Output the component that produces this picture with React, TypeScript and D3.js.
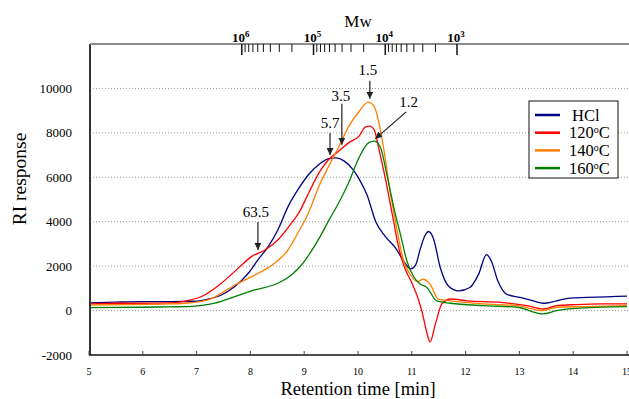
import { useEffect, useRef } from 'react';
import * as d3 from 'd3';

// retention time [min] / RI response
const hclTime = [5, 5.5, 6, 6.5, 7, 7.15, 7.46, 7.71, 7.96, 8.14, 8.33, 8.51, 8.7, 8.88, 9.09, 9.28, 9.46, 9.59, 9.74, 9.9, 10.02, 10.17, 10.33, 10.51, 10.7, 10.85, 10.98, 11.07, 11.16, 11.25, 11.31, 11.4, 11.53, 11.68, 11.87, 12.08, 12.24, 12.39, 12.48, 12.6, 12.76, 13.01, 13.26, 13.44, 13.69, 13.94, 14.25, 14.62, 15];
const hclValue = [350, 380, 400, 400, 420, 480, 700, 1080, 1680, 2280, 2880, 3630, 4680, 5430, 6150, 6590, 6840, 6870, 6740, 6370, 5930, 5190, 4000, 3330, 2810, 2220, 1880, 2050, 2800, 3400, 3560, 3260, 1930, 1110, 890, 1040, 1630, 2520, 2220, 1330, 740, 590, 440, 330, 440, 560, 590, 620, 650];

const c120Time = [5, 5.5, 6, 6.5, 6.84, 7.15, 7.46, 7.77, 8.02, 8.27, 8.51, 8.72, 8.91, 9.09, 9.28, 9.46, 9.65, 9.83, 10.02, 10.14, 10.22, 10.3, 10.39, 10.51, 10.64, 10.76, 10.88, 11.0, 11.13, 11.2, 11.28, 11.34, 11.44, 11.56, 11.72, 12.03, 12.65, 13.14, 13.44, 13.69, 14.06, 14.5, 15];
const c120Value = [300, 330, 330, 350, 450, 700, 1230, 1900, 2430, 2730, 3180, 3800, 4440, 5330, 6220, 6810, 7190, 7560, 7850, 8270, 8300, 8150, 7260, 5930, 4300, 2800, 1850, 1250, 440, -150, -1000, -1410, -590, 300, 520, 440, 370, 220, 70, 220, 270, 300, 300];

const c140Time = [5, 6, 6.5, 6.84, 7.21, 7.46, 7.71, 7.96, 8.2, 8.45, 8.7, 8.88, 9.07, 9.28, 9.46, 9.65, 9.83, 10.02, 10.19, 10.3, 10.39, 10.48, 10.6, 10.73, 10.85, 10.98, 11.1, 11.21, 11.34, 11.49, 11.72, 12.34, 12.96, 13.44, 13.69, 14.19, 15];
const c140Value = [250, 280, 300, 340, 480, 780, 1150, 1450, 1750, 2130, 2730, 3480, 4350, 5630, 6520, 7410, 8300, 8960, 9380, 9190, 8440, 7260, 5330, 3560, 2220, 1600, 1300, 1410, 1190, 520, 440, 300, 220, 0, 150, 180, 220];

const c160Time = [5, 6, 6.5, 6.84, 7.34, 7.71, 8.08, 8.51, 8.76, 8.95, 9.09, 9.28, 9.46, 9.65, 9.83, 10.02, 10.2, 10.31, 10.42, 10.54, 10.67, 10.79, 10.91, 11.04, 11.16, 11.28, 11.46, 11.72, 12.34, 12.96, 13.44, 13.69, 14.19, 15];
const c160Value = [130, 150, 170, 180, 330, 630, 930, 1230, 1600, 2050, 2520, 3260, 4070, 4890, 5780, 6890, 7560, 7630, 7330, 6070, 4590, 3410, 2220, 1500, 1190, 1040, 440, 330, 220, 150, -150, 0, 120, 180];

const seriesNames = ['HCl', '120', '140', '160'];
const seriesColors = ['#000080', '#ff0000', '#ff7f00', '#008000'];

const xTicks = [5, 6, 7, 8, 9, 10, 11, 12, 13, 14, 15];
const yTicks = [-2000, 0, 2000, 4000, 6000, 8000, 10000];
const gridValues = [0, 2000, 4000, 6000, 8000, 10000];

// molecular weight calibration on the top axis
const mwMajor = [1e6, 1e5, 1e4, 1e3];
const mwExp = ['6', '5', '4', '3'];
const mwTimes = [7.84, 11.84];

// arrow callouts: label, tip (time, response), tail offset px, text offset px
const annLabel = ['63.5', '5.7', '3.5', '1.5', '1.2'];
const annTime = [8.14, 9.48, 9.7, 10.22, 10.32];
const annValue = [2730, 7000, 7460, 9530, 7730];
const annDx = [0, 0, 0, 0, 31];
const annDy = [-28, -22, -41, -18, -27];
const annTx = [-2, 0, -1, -2, -7];
const annTy = [-5, -5, -3, -6, -5];

export default function App() {
  const ref = useRef<SVGSVGElement>(null);

  useEffect(() => {
    if (!ref.current) return;
    const svg = d3.select(ref.current);
    svg.selectAll('*').remove();

    const font = '"Liberation Serif", "Times New Roman", serif';
    const left = 90, right = 627, top = 44, bottom = 355;

    const x = d3.scaleLinear().domain([5, 15]).range([89, right]);
    const y = d3.scaleLinear().domain([-2000, 12000]).range([bottom, top]);

    const defs = svg.append('defs');
    defs.append('marker')
      .attr('id', 'arr')
      .attr('viewBox', '0 0 10 10')
      .attr('refX', 10).attr('refY', 5)
      .attr('markerWidth', 7).attr('markerHeight', 7)
      .attr('markerUnits', 'userSpaceOnUse')
      .attr('orient', 'auto')
      .append('path').attr('d', 'M0,0L10,5L0,10z').attr('fill', '#222');

    // grid
    svg.append('g').selectAll('line')
      .data(gridValues).enter().append('line')
      .attr('x1', left).attr('x2', 629)
      .attr('y1', d => y(d)).attr('y2', d => y(d))
      .attr('stroke', '#9a9a9a').attr('stroke-width', 1)
      .attr('stroke-dasharray', '1,2');

    // series
    const times = [hclTime, c120Time, c140Time, c160Time];
    const values = [hclValue, c120Value, c140Value, c160Value];
    const line = d3.line<[number, number]>()
      .x(d => x(d[0]))
      .y(d => y(d[1]))
      .curve(d3.curveMonotoneX);
    times.forEach((ts, k) => {
      const pts: [number, number][] = ts.map((t, i) => [t, values[k][i]]);
      svg.append('path')
        .datum(pts)
        .attr('d', line)
        .attr('fill', 'none')
        .attr('stroke', seriesColors[k])
        .attr('stroke-width', 1.3);
    });

    // left axis
    svg.append('line')
      .attr('x1', left).attr('x2', left).attr('y1', top).attr('y2', bottom)
      .attr('stroke', '#333').attr('stroke-width', 2);
    svg.append('g').selectAll('text')
      .data(yTicks).enter().append('text')
      .attr('x', 72).attr('y', d => y(d) + 4.5)
      .attr('text-anchor', 'end')
      .style('font-family', font).style('font-size', '13px')
      .text(d => String(d));

    // bottom axis
    svg.append('line')
      .attr('x1', left - 1).attr('x2', 629).attr('y1', bottom).attr('y2', bottom)
      .attr('stroke', '#111').attr('stroke-width', 1.5);
    svg.append('g').selectAll('line')
      .data(xTicks).enter().append('line')
      .attr('x1', d => x(d)).attr('x2', d => x(d))
      .attr('y1', bottom).attr('y2', bottom - 4)
      .attr('stroke', '#444').attr('stroke-width', 1);
    svg.append('g').selectAll('text')
      .data(xTicks).enter().append('text')
      .attr('x', d => x(d)).attr('y', 375)
      .attr('text-anchor', 'middle')
      .style('font-family', font).style('font-size', '10px')
      .text(d => String(d));

    svg.append('text')
      .attr('x', 358).attr('y', 395)
      .attr('text-anchor', 'middle')
      .style('font-family', font).style('font-size', '18.5px')
      .text('Retention time [min]');
    svg.append('text')
      .attr('transform', 'translate(26,179) rotate(-90)')
      .attr('text-anchor', 'middle')
      .style('font-family', font).style('font-size', '19.5px')
      .text('RI response');

    // top Mw axis
    const mw = d3.scaleLog().domain([1e6, 1e3]).range([x(mwTimes[0]), x(mwTimes[1])]);
    svg.append('line')
      .attr('x1', left).attr('x2', 629).attr('y1', top).attr('y2', top)
      .attr('stroke', '#8c8c8c').attr('stroke-width', 2);
    const minor: number[] = [];
    [1e5, 1e4, 1e3].forEach(d => { for (let m = 2; m <= 9; m++) minor.push(d * m); });
    svg.append('g').selectAll('line')
      .data(minor).enter().append('line')
      .attr('x1', d => mw(d)).attr('x2', d => mw(d))
      .attr('y1', top).attr('y2', top + 8)
      .attr('stroke', '#111').attr('stroke-width', 1);
    svg.append('g').selectAll('line')
      .data(mwMajor).enter().append('line')
      .attr('x1', d => mw(d)).attr('x2', d => mw(d))
      .attr('y1', top).attr('y2', top + 11)
      .attr('stroke', '#111').attr('stroke-width', 1.5);
    const mwLab = svg.append('g').selectAll('text')
      .data(mwMajor).enter().append('text')
      .attr('x', d => mw(d) - 1).attr('y', top - 2)
      .attr('text-anchor', 'middle')
      .style('font-family', font).style('font-size', '13px').style('font-weight', 'bold');
    mwLab.append('tspan').text('10');
    mwLab.append('tspan').attr('dy', -5).style('font-size', '9px').text((d, i) => mwExp[i]);
    svg.append('text')
      .attr('x', 358).attr('y', 27)
      .attr('text-anchor', 'middle')
      .style('font-family', font).style('font-size', '17px')
      .text('Mw');

    // callouts
    annLabel.forEach((lab, i) => {
      const px = x(annTime[i]), py = y(annValue[i]);
      const tx = px + annDx[i], ty = py + annDy[i];
      svg.append('line')
        .attr('x1', tx).attr('y1', ty).attr('x2', px).attr('y2', py)
        .attr('stroke', '#222').attr('stroke-width', 1.2)
        .attr('marker-end', 'url(#arr)');
      svg.append('text')
        .attr('x', tx + annTx[i]).attr('y', ty + annTy[i])
        .attr('text-anchor', i === 4 ? 'start' : 'middle')
        .style('font-family', font).style('font-size', '15px')
        .text(lab);
    });

    // legend
    const lg = svg.append('g').attr('transform', 'translate(529,101)');
    lg.append('rect').attr('width', 89).attr('height', 77)
      .attr('fill', '#fff').attr('stroke', '#111').attr('stroke-width', 1);
    seriesNames.forEach((name, i) => {
      const ly = 14 + i * 17.7;
      lg.append('line').attr('x1', 6).attr('x2', 31).attr('y1', ly).attr('y2', ly)
        .attr('stroke', seriesColors[i]).attr('stroke-width', 2.5);
      const t = lg.append('text').attr('x', i === 0 ? 43 : 40).attr('y', ly + 5.5)
        .style('font-family', font).style('font-size', '16.5px');
      t.append('tspan').text(name);
      if (i > 0) {
        t.append('tspan').attr('dy', -5).style('font-size', '10px').text('o');
        t.append('tspan').attr('dy', 5).text('C');
      }
    });
  }, []);

  return (
    <svg ref={ref} width={629} height={399}
      style={{ position: 'absolute', left: 0, top: 0, background: '#fff' }} />
  );
}
